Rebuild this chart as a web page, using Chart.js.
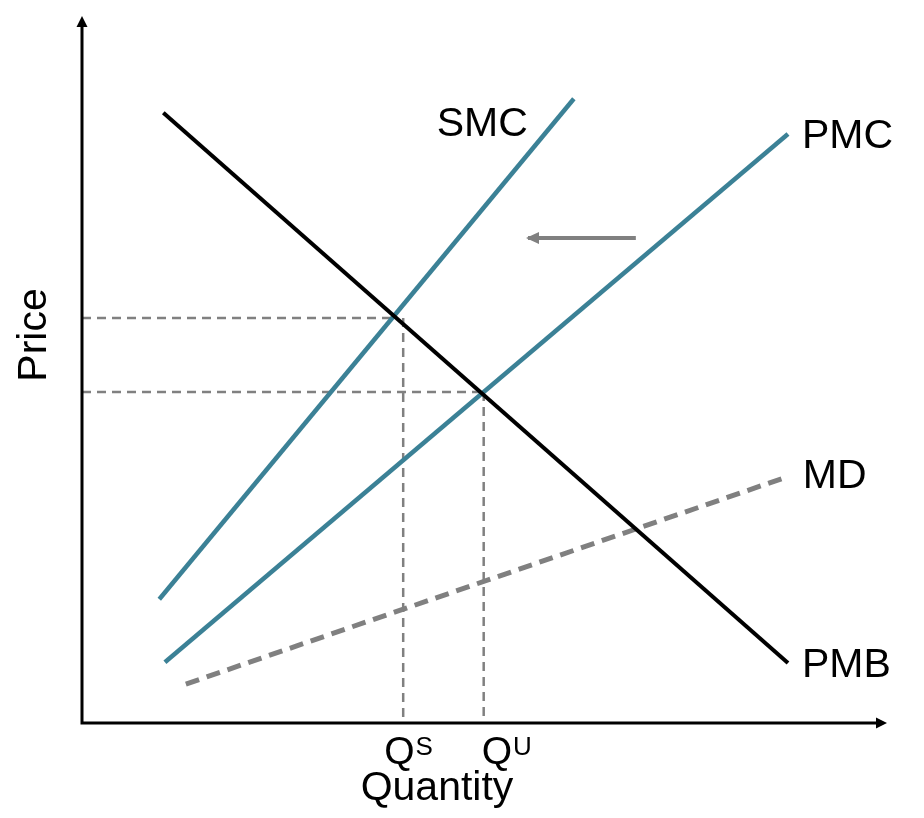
<!DOCTYPE html>
<html>
<head>
<meta charset="utf-8">
<title>Negative production externality</title>
<script src="https://cdn.jsdelivr.net/npm/chart.js@4.4.1/dist/chart.umd.min.js"></script>
<style>
  html, body { margin: 0; padding: 0; background: #fff; }
  canvas { display: block; }
</style>
</head>
<body>
<canvas id="chartExternality" width="924" height="818"></canvas>
<script>
// curve end points, quantity / price on a 0-100 scale
const pmbQ = [10.1, 87.7];
const pmbP = [86.3, 8.5];
const smcQ = [9.6, 61.1];
const smcP = [17.5, 88.3];
const pmcQ = [10.3, 87.7];
const pmcP = [8.6, 83.3];
const mdQ = [12.9, 87.3];
const mdP = [5.5, 34.7];

// equilibria: S = social optimum, U = unregulated market
const eqNames = ['S', 'U'];
const eqQ = [39.9, 49.9];
const eqP = [57.3, 46.8];
const eqPriceEnd = [38.9, 49.4];

// supply shift arrow (PMC -> SMC)
const shiftQ = [68.8, 55.4];
const shiftP = [68.6, 68.6];

const axisTitles = ['Quantity', 'Price'];

const TEAL = '#3b8196';
const GREY = '#808080';
const FONT = '"Liberation Sans", Arial, Helvetica, sans-serif';

const pts = (xs, ys) => xs.map((x, i) => ({ x: x, y: ys[i] }));

const line = (label, data, color, width, dash) => ({
    label: label,
    data: data,
    showLine: true,
    borderColor: color,
    backgroundColor: color,
    borderWidth: width,
    borderDash: dash || [],
    borderCapStyle: 'butt',
    pointRadius: 0,
    pointHoverRadius: 0,
    fill: false
});

const datasets = [
    line('PMB', pts(pmbQ, pmbP), '#000', 4),
    line('SMC', pts(smcQ, smcP), TEAL, 4.5),
    line('PMC', pts(pmcQ, pmcP), TEAL, 4.5),
    line('MD', pts(mdQ, mdP), GREY, 5, [14, 8])
];
eqNames.forEach((n, i) => {
    datasets.push(line('P' + n, [{ x: 0, y: eqP[i] }, { x: eqPriceEnd[i], y: eqP[i] }], GREY, 2.5, [9, 6]));
    datasets.push(line('Q' + n, [{ x: eqQ[i], y: eqP[i] }, { x: eqQ[i], y: 0 }], GREY, 2.5, [9, 6]));
});
datasets.push(line('shift', pts(shiftQ, shiftP), GREY, 4));

const diagramPlugin = {
    id: 'diagram',
    afterDatasetsDraw(chart) {
        const ctx = chart.ctx;
        const a = chart.chartArea;
        const xs = chart.scales.x;
        const ys = chart.scales.y;
        ctx.save();

        // axes with arrow heads
        ctx.strokeStyle = '#000';
        ctx.fillStyle = '#000';
        ctx.lineWidth = 3;
        ctx.beginPath();
        ctx.moveTo(a.left, a.top + 8);
        ctx.lineTo(a.left, a.bottom);
        ctx.lineTo(a.right - 8, a.bottom);
        ctx.stroke();
        ctx.beginPath();
        ctx.moveTo(a.left, a.top);
        ctx.lineTo(a.left - 5.5, a.top + 11);
        ctx.lineTo(a.left + 5.5, a.top + 11);
        ctx.closePath();
        ctx.fill();
        ctx.beginPath();
        ctx.moveTo(a.right, a.bottom);
        ctx.lineTo(a.right - 11, a.bottom - 5.5);
        ctx.lineTo(a.right - 11, a.bottom + 5.5);
        ctx.closePath();
        ctx.fill();

        // shift arrow head
        const tx = xs.getPixelForValue(shiftQ[1]);
        const ty = ys.getPixelForValue(shiftP[1]);
        ctx.fillStyle = GREY;
        ctx.beginPath();
        ctx.moveTo(tx - 2, ty);
        ctx.lineTo(tx + 11, ty - 6);
        ctx.lineTo(tx + 11, ty + 6);
        ctx.closePath();
        ctx.fill();

        // curve labels next to the end points
        ctx.fillStyle = '#000';
        ctx.font = '41px ' + FONT;
        ctx.textBaseline = 'alphabetic';
        const tag = (text, q, p, dx, dy, align) => {
            ctx.textAlign = align;
            ctx.fillText(text, xs.getPixelForValue(q) + dx, ys.getPixelForValue(p) + dy);
        };
        tag('SMC', smcQ[1], smcP[1], -46, 37, 'right');
        tag('PMC', pmcQ[1], pmcP[1], 14, 14, 'left');
        tag('MD', mdQ[1], mdP[1], 18, 10, 'left');
        tag('PMB', pmbQ[1], pmbP[1], 14, 14, 'left');

        // Q^S, Q^U under the axis
        const qShift = [-19, -2];
        eqNames.forEach((n, i) => {
            const x = xs.getPixelForValue(eqQ[i]) + qShift[i];
            ctx.textAlign = 'left';
            ctx.font = '39px ' + FONT;
            ctx.fillText('Q', x, a.bottom + 41);
            const w = ctx.measureText('Q').width;
            ctx.font = '26px ' + FONT;
            ctx.fillText(n, x + w + 1, a.bottom + 32);
        });

        // axis titles
        ctx.font = '41px ' + FONT;
        ctx.textAlign = 'center';
        ctx.fillText(axisTitles[0], 437, a.bottom + 77);
        ctx.translate(46, 335);
        ctx.rotate(-Math.PI / 2);
        ctx.fillText(axisTitles[1], 0, 0);
        ctx.restore();
    }
};

new Chart('chartExternality', {
    type: 'scatter',
    data: { datasets: datasets },
    options: {
        responsive: false,
        animation: false,
        clip: false,
        layout: { padding: { left: 82, right: 37, top: 16, bottom: 95 } },
        scales: {
            x: { type: 'linear', min: 0, max: 100, display: false },
            y: { type: 'linear', min: 0, max: 100, display: false }
        },
        plugins: {
            legend: { display: false },
            tooltip: { enabled: false }
        }
    },
    plugins: [diagramPlugin]
});
</script>
</body>
</html>
